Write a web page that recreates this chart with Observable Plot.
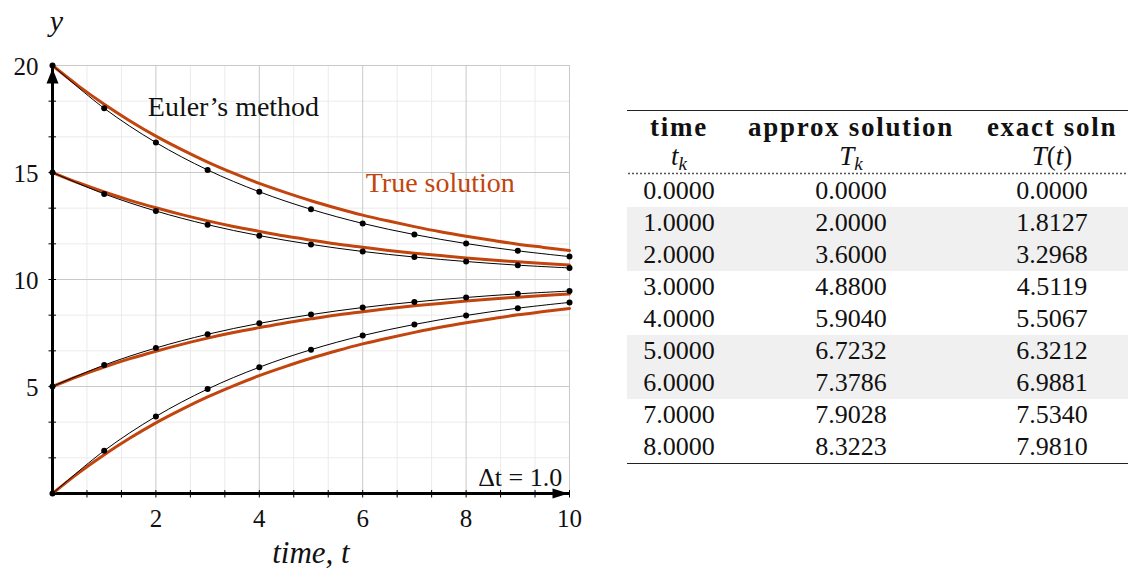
<!DOCTYPE html>
<html><head><meta charset="utf-8">
<script src="https://cdn.jsdelivr.net/npm/d3@7"></script>
<script src="https://cdn.jsdelivr.net/npm/@observablehq/plot@0.6"></script>
<style>
html,body{margin:0;padding:0;background:#fff;}
#page{position:relative;width:1128px;height:571px;overflow:hidden;background:#fff;}
#chart{position:absolute;left:0;top:0;}
#tbl{position:absolute;left:627px;top:110px;border-collapse:collapse;border-spacing:0;font-family:"Liberation Serif",serif;color:#111;table-layout:fixed;width:506px;}
#tbl th,#tbl td{padding:0;height:32px;line-height:32px;text-align:center;white-space:nowrap;}
#tbl thead tr.h1 th{border-top:1.5px solid #222;font-weight:bold;font-size:27px;letter-spacing:1.7px;}
#tbl thead tr.h2 th{font-weight:normal;font-size:27px;font-style:italic;line-height:26px;vertical-align:top;
  background-image:radial-gradient(circle,#555 0.9px,transparent 1.2px);background-size:4px 3px;background-position:0 100%;background-repeat:repeat-x;}
#tbl sub{font-size:19px;vertical-align:-5px;line-height:0;}
#tbl td{font-size:26px;}
#tbl tbody tr.shade td{background:#f0f0f0;}
#tbl tbody tr:last-child td{border-bottom:1.5px solid #222;}
</style></head>
<body><div id="page"><div id="chart"></div><table id="tbl"></table></div>
<script>
// ---- data ----
const tSteps = [0, 1, 2, 3, 4, 5, 6, 7, 8, 9, 10];
const euler0  = [0, 2, 3.6, 4.88, 5.90, 6.72, 7.38, 7.90, 8.32, 8.66, 8.93];
const euler5  = [5, 6, 6.8, 7.44, 7.95, 8.36, 8.69, 8.95, 9.16, 9.33, 9.46];
const euler15 = [15, 14, 13.2, 12.56, 12.05, 11.64, 11.31, 11.05, 10.84, 10.67, 10.54];
const euler20 = [20, 18, 16.4, 15.12, 14.10, 13.28, 12.62, 12.10, 11.68, 11.34, 11.07];

const tFine = [0, 0.5, 1, 1.5, 2, 2.5, 3, 3.5, 4, 4.5, 5, 5.5, 6, 6.5, 7, 7.5, 8, 8.5, 9, 9.5, 10];
const true0  = [0, 0.95, 1.81, 2.59, 3.30, 3.93, 4.51, 5.03, 5.51, 5.93, 6.32, 6.67, 6.99, 7.27, 7.53, 7.77, 7.98, 8.17, 8.35, 8.50, 8.65];
const true5  = [5, 5.48, 5.91, 6.30, 6.65, 6.97, 7.26, 7.52, 7.75, 7.97, 8.16, 8.34, 8.49, 8.64, 8.77, 8.88, 8.99, 9.09, 9.17, 9.25, 9.32];
const true15 = [15, 14.52, 14.09, 13.70, 13.35, 13.03, 12.74, 12.48, 12.25, 12.03, 11.84, 11.66, 11.51, 11.36, 11.23, 11.12, 11.01, 10.91, 10.83, 10.75, 10.68];
const true20 = [20, 19.05, 18.19, 17.41, 16.70, 16.07, 15.49, 14.97, 14.49, 14.07, 13.68, 13.33, 13.01, 12.73, 12.47, 12.23, 12.02, 11.83, 11.65, 11.50, 11.35];

const xTickLabels = [2, 4, 6, 8, 10];
const yTickLabels = [5, 10, 15, 20];

const tableHeader = ["time", "approx solution", "exact soln"];
const tableTk = ["0.0000", "1.0000", "2.0000", "3.0000", "4.0000", "5.0000", "6.0000", "7.0000", "8.0000"];
const tableApprox = ["0.0000", "2.0000", "3.6000", "4.8800", "5.9040", "6.7232", "7.3786", "7.9028", "8.3223"];
const tableExact = ["0.0000", "1.8127", "3.2968", "4.5119", "5.5067", "6.3212", "6.9881", "7.5340", "7.9810"];

// ---- build tidy data ----
const eulerSeries = {e0: euler0, e5: euler5, e15: euler15, e20: euler20};
const trueSeries = {s0: true0, s5: true5, s15: true15, s20: true20};
const eulerData = Object.entries(eulerSeries).flatMap(([k, ys]) => ys.map((y, i) => ({series: k, t: tSteps[i], y})));
const trueData = Object.entries(trueSeries).flatMap(([k, ys]) => ys.map((y, i) => ({series: k, t: tFine[i], y})));

const minorX = d3.range(1, 16).map(i => i * 2 / 3).filter((v, i) => (i + 1) % 3 !== 0);
const minorY = d3.range(1, 12).map(i => i * 5 / 3).filter((v, i) => (i + 1) % 3 !== 0);
const allTicksX = d3.range(1, 16).map(i => i * 2 / 3);
const allTicksY = d3.range(1, 12).map(i => i * 5 / 3);

const ORANGE = "#c2450e";
const SERIF = '"Liberation Serif", serif';
const vTick = {draw(ctx) { ctx.moveTo(0, -3.5); ctx.lineTo(0, 4); }};
const hTick = {draw(ctx) { ctx.moveTo(-4, 0); ctx.lineTo(3.5, 0); }};
const upArrow = {draw(ctx) { ctx.moveTo(0, -8); ctx.lineTo(6, 7); ctx.lineTo(-6, 7); ctx.closePath(); }};
const rightArrow = {draw(ctx) { ctx.moveTo(8, 0); ctx.lineTo(-8, -5); ctx.lineTo(-8, 5); ctx.closePath(); }};

const chart = Plot.plot({
  width: 600, height: 571,
  marginLeft: 52, marginRight: 31, marginTop: 65, marginBottom: 78,
  x: {domain: [0, 10], label: null, axis: null},
  y: {domain: [0, 20], label: null, axis: null},
  style: {fontFamily: SERIF, fontSize: "24px", color: "#111", background: "white", overflow: "visible"},
  marks: [
    Plot.gridX(minorX, {stroke: "#ebebeb", strokeOpacity: 1}),
    Plot.gridY(minorY, {stroke: "#ebebeb", strokeOpacity: 1}),
    Plot.gridX(xTickLabels, {stroke: "#c9c9c9", strokeOpacity: 1}),
    Plot.gridY(yTickLabels, {stroke: "#c9c9c9", strokeOpacity: 1}),
    Plot.ruleY([0], {x1: 0, x2: 10, stroke: "black", strokeWidth: 3}),
    Plot.ruleX([0], {y1: 0, y2: 20, stroke: "black", strokeWidth: 3}),
    Plot.dot([0], {frameAnchor: "top-left", dy: 11, symbol: upArrow, fill: "black", stroke: "none"}),
    Plot.dot([0], {frameAnchor: "bottom-right", dx: -9, symbol: rightArrow, fill: "black", stroke: "none"}),
    Plot.dot(allTicksX, {x: d => d, frameAnchor: "bottom", symbol: vTick, stroke: "black", fill: "none", strokeWidth: 1}),
    Plot.dot(allTicksY, {y: d => d, frameAnchor: "left", symbol: hTick, stroke: "black", fill: "none", strokeWidth: 1}),
    Plot.line(trueData, {x: "t", y: "y", z: "series", stroke: ORANGE, strokeWidth: 3, curve: "monotone-x"}),
    Plot.line(eulerData, {x: "t", y: "y", z: "series", stroke: "black", strokeWidth: 1, curve: "catmull-rom"}),
    Plot.dot(eulerData, {x: "t", y: "y", r: 3, fill: "black", stroke: "none"}),
    Plot.text(xTickLabels, {x: d => d, text: d => String(d), frameAnchor: "bottom", lineAnchor: "middle", textAnchor: "middle", dy: 25, fontSize: 25, fontFamily: SERIF, fill: "#111"}),
    Plot.text(yTickLabels, {y: d => d, text: d => String(d), frameAnchor: "left", lineAnchor: "middle", textAnchor: "end", dx: -14, dy: 1, fontSize: 25, fontFamily: SERIF, fill: "#111"}),
    Plot.text(["Euler’s method"], {x: 3.5, y: 18.05, fontSize: 28, fontFamily: SERIF, fill: "#111"}),
    Plot.text(["True solution"], {x: 7.5, y: 14.5, fontSize: 28, fontFamily: SERIF, fill: ORANGE}),
    Plot.text(["Δt = 1.0"], {x: 9.86, y: 0.72, textAnchor: "end", fontSize: 26, fontFamily: SERIF, fill: "#111"}),
    Plot.text(["y"], {frameAnchor: "top-left", lineAnchor: "middle", textAnchor: "middle", dx: 4, dy: -44, fontStyle: "italic", fontSize: 30, fontFamily: SERIF, fill: "#111"}),
    Plot.text(["time, t"], {frameAnchor: "bottom", lineAnchor: "middle", textAnchor: "middle", dy: 60, fontStyle: "italic", fontSize: 31, fontFamily: SERIF, fill: "#111"})
  ]
});
document.getElementById("chart").appendChild(chart);

// ---- table ----
const tbl = document.getElementById("tbl");
const colWidths = [104, 240, 162];
let html = "<colgroup>" + colWidths.map(w => `<col style="width:${w}px">`).join("") + "</colgroup>";
html += "<thead><tr class='h1'>" + tableHeader.map(h => `<th>${h}</th>`).join("") + "</tr>";
html += "<tr class='h2'><th>t<sub>k</sub></th><th>T<sub>k</sub></th><th>T<span style='font-style:normal'>(</span>t<span style='font-style:normal'>)</span></th></tr></thead><tbody>";
tableTk.forEach((tk, i) => {
  const shade = (i === 1 || i === 2 || i === 5 || i === 6) ? " class='shade'" : "";
  html += `<tr${shade}><td>${tk}</td><td>${tableApprox[i]}</td><td>${tableExact[i]}</td></tr>`;
});
html += "</tbody>";
tbl.innerHTML = html;
</script>
</body></html>
